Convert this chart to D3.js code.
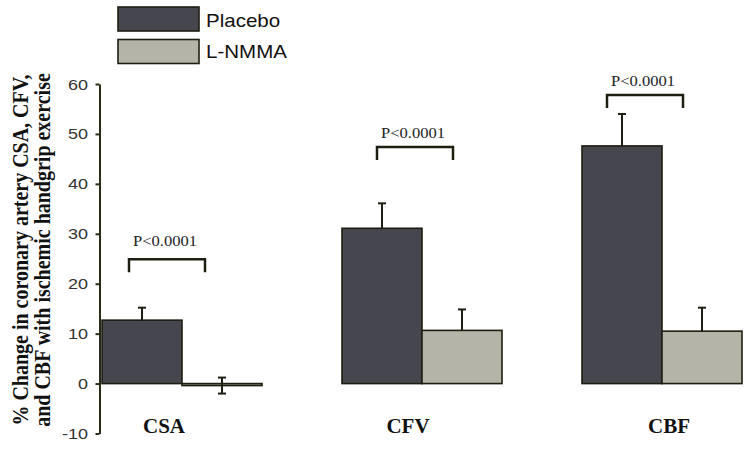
<!DOCTYPE html>
<html><head><meta charset="utf-8">
<script src="https://cdn.jsdelivr.net/npm/d3@7"></script>
<style>body{margin:0;background:#fff}svg{display:block}</style>
</head><body>
<script>
// ---- data ----
const categories = ["CSA", "CFV", "CBF"];
const seriesNames = ["Placebo", "L-NMMA"];
const placebo = [12.7, 31.1, 47.6];
const placeboErr = [2.5, 5.0, 6.4];
const lnmma = [-0.4, 10.65, 10.5];
const lnmmaErr = [1.6, 4.2, 4.7];
const pLabels = ["P<0.0001", "P<0.0001", "P<0.0001"];
const bracketLevel = [24.9, 47.4, 57.8];
const pLabelLevel = [27.6, 49.1, 59.6];
const yTicks = [-10, 0, 10, 20, 30, 40, 50, 60];
const yTitle = ["% Change in coronary artery CSA, CFV,", "and CBF with ischemic handgrip exercise"];

// ---- layout / style ----
const W = 751, H = 449;
const colors = ["#46464f", "#b4b4a8"];
const ink = "#1e1e12";
const bracketOffset = [27, 35, 25];
const labelNudge = [-18, -14, 7];

const svg = d3.select("body").append("svg").attr("width", W).attr("height", H);

const y = d3.scaleLinear().domain([-10, 60]).range([433.5, 84]);
const x = d3.scaleBand().domain(categories).range([102, 742]).paddingInner(1/3).paddingOuter(0);
const xs = d3.scaleBand().domain(seriesNames).range([0, x.bandwidth()]).padding(0);

// axis
const axis = d3.axisLeft(y).tickValues(yTicks).tickSize(4).tickSizeOuter(0).tickFormat("");
const ag = svg.append("g").attr("transform", "translate(99.5,0)").call(axis);
ag.selectAll("path,line").attr("stroke", "#2b2b1b").attr("stroke-width", 2);
svg.append("g").selectAll("text").data(yTicks).join("text")
  .attr("transform", d => `translate(88,${y(d) + 5.5}) scale(1.2,1)`)
  .attr("text-anchor", "end")
  .attr("font-family", "Liberation Sans, Arial, sans-serif")
  .attr("font-size", 15).attr("fill", "#333")
  .text(d => d);

// bars
const rows = [];
categories.forEach((c, i) => {
  rows.push({c, s: seriesNames[0], v: placebo[i], e: placeboErr[i], k: 0});
  rows.push({c, s: seriesNames[1], v: lnmma[i], e: lnmmaErr[i], k: 1});
});
const bars = svg.append("g");
bars.selectAll("rect").data(rows).join("rect")
  .attr("x", d => x(d.c) + xs(d.s))
  .attr("width", xs.bandwidth())
  .attr("y", d => y(Math.max(0, d.v)))
  .attr("height", d => Math.abs(y(d.v) - y(0)))
  .attr("fill", d => colors[d.k])
  .attr("stroke", ink).attr("stroke-width", 1.6);

// error bars
const eg = svg.append("g").attr("stroke", ink).attr("stroke-width", 2);
rows.forEach(d => {
  const cx = x(d.c) + xs(d.s) + xs.bandwidth() / 2;
  const twoSided = d.v < 1;
  const top = y(d.v + d.e);
  const bot = twoSided ? y(d.v - d.e) : y(d.v);
  eg.append("line").attr("x1", cx).attr("x2", cx).attr("y1", top).attr("y2", bot);
  eg.append("line").attr("x1", cx - 4).attr("x2", cx + 4).attr("y1", top).attr("y2", top);
  if (twoSided) eg.append("line").attr("x1", cx - 4).attr("x2", cx + 4).attr("y1", bot).attr("y2", bot);
});

// brackets and p labels
categories.forEach((c, i) => {
  const x1 = x(c) + bracketOffset[i], x2 = x1 + 76;
  const yb = y(bracketLevel[i]);
  svg.append("path")
    .attr("d", `M${x1},${yb + 13}V${yb}H${x2}V${yb + 13}`)
    .attr("fill", "none").attr("stroke", ink).attr("stroke-width", 2.5);
  svg.append("text")
    .attr("transform", `translate(${(x1 + x2) / 2 - 2},${y(pLabelLevel[i])}) scale(1.2,1)`)
    .attr("text-anchor", "middle")
    .attr("font-family", "Liberation Serif, Times New Roman, serif")
    .attr("font-size", 13.8).attr("fill", "#222")
    .text(pLabels[i]);
});

// category labels
svg.append("g").selectAll("text").data(categories).join("text")
  .attr("x", (d, i) => x(d) + x.bandwidth() / 2 + labelNudge[i])
  .attr("y", 433)
  .attr("text-anchor", "middle")
  .attr("font-family", "Liberation Serif, Times New Roman, serif")
  .attr("font-weight", "bold").attr("font-size", 21).attr("fill", "#111")
  .text(d => d);

// y title
yTitle.forEach((t, i) => {
  svg.append("text")
    .attr("transform", `translate(${28 + i * 22},250) scale(1.17,1) rotate(-90)`)
    .attr("text-anchor", "middle")
    .attr("font-family", "Liberation Serif, Times New Roman, serif")
    .attr("font-weight", "bold").attr("font-size", 20).attr("fill", "#111")
    .text(t);
});

// legend
const lg = svg.append("g");
seriesNames.forEach((s, i) => {
  lg.append("rect").attr("x", 118).attr("y", 7 + i * 32.5).attr("width", 81).attr("height", 24)
    .attr("fill", colors[i]).attr("stroke", ink).attr("stroke-width", 1.6);
  lg.append("text")
    .attr("transform", `translate(206,${26.5 + i * 31.5}) scale(1.16,1)`)
    .attr("font-family", "Liberation Sans, Arial, sans-serif")
    .attr("font-size", 17.7).attr("fill", "#111")
    .text(s);
});
</script>
</body></html>
